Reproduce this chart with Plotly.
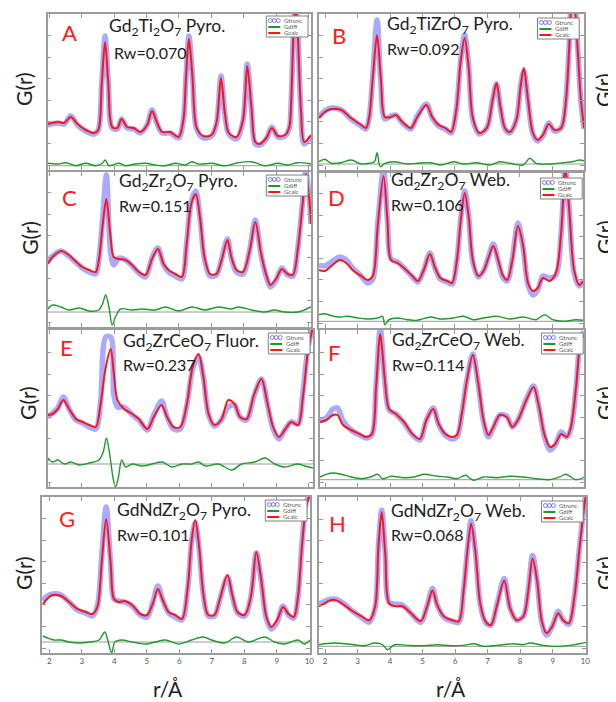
import plotly.graph_objects as go

# ---------------- data (r in Å, G(r) in arbitrary units) ----------------
r_A = [1.95, 2.26, 2.46, 2.66, 2.87, 3.12, 3.38, 3.51, 3.62, 3.72, 3.82, 3.94, 4.10, 4.23, 4.40, 4.61, 4.81, 5.02, 5.17, 5.32,
       5.48, 5.73, 5.99, 6.14, 6.22, 6.31, 6.42, 6.55, 6.75, 7.01, 7.16, 7.30, 7.42, 7.54, 7.78, 7.98, 8.11, 8.24, 8.36, 8.49,
       8.70, 8.87, 9.06, 9.28, 9.41, 9.47, 9.54, 9.60, 9.67, 9.77, 9.87, 10.08]
calc_A = [46, 48, 47, 53, 46, 40, 37, 40, 87, 128, 87, 43, 42, 51, 43, 42, 38, 45, 59, 48,
          38, 38, 33, 50, 93, 131, 93, 42, 34, 35, 47, 92, 57, 37, 33, 50, 104, 63, 28, 26,
          32, 42, 34, 35, 43, 70, 137, 165, 137, 60, 28, 35]
trunc_A = [45, 47, 46, 54, 45, 39, 36, 40, 88, 134, 88, 42, 41, 51, 42, 41, 37, 45, 60, 47,
           37, 37, 32, 50, 94, 134, 94, 41, 32, 34, 46, 94, 56, 36, 31, 49, 106, 62, 26, 25,
           31, 43, 33, 34, 42, 70, 140, 170, 140, 58, 26, 33]
rd_A = [1.95, 2.26, 2.51, 2.82, 3.12, 3.43, 3.64, 3.72, 3.84, 3.94, 4.15, 4.35, 4.66, 4.97, 5.27, 5.58, 5.89, 6.19, 6.40, 6.60,
        7.01, 7.42, 7.83, 8.24, 8.65, 9.06, 9.36, 9.67, 10.08]
diff_A = [6.7, 6, 7.3, 4.3, 6.7, 4.3, 6.7, 10, 4.3, 5, 6.7, 4.3, 6, 6.7, 5, 4.3, 6.7, 5, 8.3, 6,
          6.7, 4.3, 7.3, 8.3, 4.3, 6.7, 5, 7.3, 6]
base_A = 4.3

r_B = [1.81, 1.99, 2.19, 2.50, 2.80, 3.11, 3.26, 3.36, 3.47, 3.60, 3.72, 3.84, 4.03, 4.18, 4.38, 4.64, 4.84, 5.12, 5.30, 5.50,
       5.70, 5.88, 6.04, 6.18, 6.30, 6.42, 6.55, 6.75, 6.98, 7.16, 7.28, 7.40, 7.54, 7.69, 7.89, 8.02, 8.12, 8.25, 8.40, 8.55,
       8.71, 8.89, 9.06, 9.27, 9.42, 9.52, 9.60, 9.67, 9.78, 9.88, 9.98]
calc_B = [52, 58, 61, 60, 52, 45, 42, 53, 93, 135, 90, 53, 53, 55, 48, 42, 53, 65, 53, 45,
          42, 38, 60, 110, 132, 103, 52, 37, 42, 70, 87, 63, 42, 38, 50, 83, 102, 70, 37, 30,
          35, 46, 40, 42, 70, 123, 160, 160, 120, 70, 42]
trunc_B = [53, 59, 62, 60, 51, 44, 41, 53, 95, 150, 85, 51, 54, 55, 47, 41, 54, 66, 52, 44,
           41, 37, 60, 111, 135, 104, 50, 36, 42, 71, 86, 62, 41, 37, 50, 84, 99, 69, 36, 29,
           34, 47, 39, 42, 72, 126, 165, 165, 122, 68, 41]
rd_B = [1.81, 1.99, 2.19, 2.50, 2.80, 3.11, 3.36, 3.52, 3.60, 3.70, 3.84, 4.13, 4.53, 4.84, 5.25, 5.55, 5.96, 6.26, 6.67, 7.08,
        7.38, 7.69, 8.10, 8.30, 8.50, 8.91, 9.32, 9.62, 9.83, 9.98]
diff_B = [8.3, 10.7, 6.7, 7.3, 10, 6, 6.7, 8.3, 17.3, 3.3, 6.7, 8.3, 6, 6.7, 7.3, 5, 8.3, 6, 7.3, 5,
          8.3, 6.7, 5, 11.7, 6.7, 6, 7.3, 8.3, 10, 9.3]
base_B = 6

r_C = [1.95, 2.10, 2.36, 2.56, 2.77, 3.02, 3.23, 3.43, 3.53, 3.64, 3.76, 3.89, 3.99, 4.15, 4.35, 4.56, 4.76, 4.97, 5.17, 5.35,
       5.53, 5.68, 5.89, 6.09, 6.24, 6.38, 6.52, 6.65, 6.79, 6.96, 7.16, 7.32, 7.50, 7.62, 7.78, 7.98, 8.19, 8.36, 8.54, 8.70,
       8.83, 9.00, 9.18, 9.36, 9.52, 9.67, 9.82, 9.92, 10.03, 10.08]
calc_C = [63, 70, 76, 73, 67, 60, 57, 55, 67, 100, 128, 90, 70, 68, 67, 62, 55, 52, 68, 78,
          63, 57, 53, 50, 83, 123, 133, 110, 70, 53, 53, 67, 87, 70, 57, 55, 77, 105, 73, 52,
          42, 48, 58, 53, 52, 77, 123, 153, 127, 103]
trunc_C = [65, 71, 76, 72, 66, 59, 55, 53, 68, 106, 152, 75, 62, 69, 67, 61, 54, 50, 69, 79,
           62, 55, 51, 48, 84, 125, 136, 110, 68, 51, 52, 68, 88, 69, 55, 53, 78, 107, 72, 50,
           40, 47, 59, 52, 51, 78, 125, 155, 128, 103]
rd_C = [1.95, 2.10, 2.36, 2.61, 2.92, 3.23, 3.53, 3.64, 3.74, 3.84, 3.94, 4.04, 4.20, 4.56, 4.86, 5.27, 5.58, 5.99, 6.40, 6.81,
        7.21, 7.62, 7.83, 8.24, 8.65, 8.95, 9.26, 9.67, 9.87, 10.08]
diff_C = [18, 22, 20, 17, 19, 16, 17, 23, 32, 20, 2, 10, 18, 17, 18, 17, 20, 16, 20, 17,
          20, 18, 20, 17, 15, 17, 15, 15, 17, 20]
base_C = 15

r_D = [1.81, 1.99, 2.19, 2.45, 2.65, 2.85, 3.11, 3.31, 3.47, 3.62, 3.80, 3.92, 4.03, 4.23, 4.43, 4.69, 4.86, 5.04, 5.23, 5.37,
       5.55, 5.76, 5.91, 6.06, 6.18, 6.30, 6.42, 6.55, 6.72, 6.88, 7.03, 7.18, 7.33, 7.47, 7.61, 7.77, 7.94, 8.10, 8.25, 8.40,
       8.55, 8.71, 8.91, 9.11, 9.27, 9.40, 9.52, 9.67, 9.83, 9.95]
calc_D = [58, 57, 62, 68, 65, 58, 52, 48, 52, 102, 152, 108, 68, 65, 60, 52, 47, 58, 74, 62,
          50, 47, 45, 68, 108, 135, 112, 68, 52, 57, 70, 82, 68, 53, 48, 68, 102, 82, 45, 37,
          40, 50, 47, 55, 95, 160, 118, 58, 43, 47]
trunc_D = [63, 62, 66, 71, 68, 60, 52, 45, 49, 104, 158, 108, 69, 66, 60, 51, 46, 58, 75, 61,
           49, 46, 44, 68, 110, 137, 112, 66, 51, 57, 71, 84, 67, 51, 47, 70, 105, 80, 43, 33,
           38, 52, 50, 53, 95, 162, 118, 55, 42, 47]
rd_D = [1.81, 1.99, 2.19, 2.45, 2.70, 3.01, 3.31, 3.62, 3.77, 3.84, 3.97, 4.23, 4.53, 4.84, 5.25, 5.55, 5.96, 6.26, 6.57, 6.88,
        7.28, 7.69, 8.10, 8.50, 8.76, 9.01, 9.32, 9.73, 9.95]
diff_D = [13.3, 14.3, 12.3, 11, 11.7, 10, 9, 10, 11.7, 3.3, 8.3, 10, 8.3, 7.7, 11, 9, 10, 11.7, 8.3, 10,
          11.7, 9, 11, 8.3, 13.3, 8.3, 6.7, 8.3, 7.7]
base_D = 6.7

r_E = [1.95, 2.10, 2.26, 2.43, 2.61, 2.82, 3.02, 3.23, 3.43, 3.58, 3.74, 3.89, 3.99, 4.10, 4.30, 4.56, 4.76, 5.02, 5.22, 5.46,
       5.63, 5.83, 6.04, 6.24, 6.42, 6.60, 6.75, 6.91, 7.09, 7.30, 7.52, 7.71, 7.88, 8.08, 8.32, 8.54, 8.73, 8.90, 9.08, 9.26,
       9.46, 9.67, 9.82, 9.98, 10.13]
calc_E = [72, 73, 78, 87, 78, 68, 65, 62, 60, 83, 120, 138, 113, 87, 78, 73, 68, 58, 70, 82,
          70, 60, 60, 83, 120, 133, 110, 73, 62, 67, 87, 83, 70, 68, 93, 108, 83, 60, 50, 57,
          65, 62, 90, 137, 160]
trunc_E = [70, 74, 79, 90, 78, 67, 64, 60, 58, 85, 150, 150, 92, 80, 80, 72, 67, 57, 72, 86,
           70, 58, 58, 82, 118, 130, 110, 72, 61, 67, 80, 82, 70, 67, 92, 108, 82, 58, 48, 57,
           65, 63, 95, 140, 162]
rd_E = [1.95, 2.10, 2.26, 2.46, 2.66, 2.92, 3.23, 3.53, 3.66, 3.76, 3.86, 3.96, 4.04, 4.13, 4.23, 4.35, 4.56, 4.86, 5.17, 5.48,
        5.78, 6.09, 6.40, 6.60, 6.81, 7.21, 7.62, 7.93, 8.34, 8.65, 8.95, 9.26, 9.67, 9.87, 10.13]
diff_E = [29, 25, 27, 23, 25, 22, 24, 27, 35, 49, 33, 10, 0, 10, 27, 20, 23, 21, 23, 25,
          20, 23, 23, 25, 21, 23, 17, 23, 25, 29, 23, 20, 23, 21, 19]
base_E = 23

r_F = [1.84, 2.04, 2.24, 2.38, 2.55, 2.80, 3.06, 3.26, 3.44, 3.57, 3.70, 3.84, 3.97, 4.18, 4.43, 4.69, 4.92, 5.12, 5.33, 5.50,
       5.70, 5.91, 6.06, 6.21, 6.37, 6.55, 6.72, 6.88, 7.03, 7.18, 7.38, 7.59, 7.77, 7.94, 8.20, 8.42, 8.59, 8.76, 8.93, 9.09,
       9.27, 9.44, 9.57, 9.73, 9.88, 9.98]
calc_F = [65, 67, 72, 72, 62, 57, 53, 50, 53, 100, 153, 107, 78, 73, 65, 53, 48, 67, 78, 63,
          53, 50, 52, 73, 107, 132, 103, 67, 52, 60, 72, 70, 60, 67, 87, 100, 80, 52, 40, 43,
          53, 50, 60, 100, 147, 152]
trunc_F = [66, 69, 78, 79, 66, 57, 52, 49, 52, 102, 158, 105, 77, 73, 64, 52, 47, 67, 79, 62,
           52, 48, 50, 73, 108, 133, 102, 65, 50, 59, 72, 71, 60, 67, 88, 101, 79, 50, 37, 42,
           55, 50, 58, 100, 150, 155]
rd_F = [1.84, 2.04, 2.24, 2.50, 2.80, 3.11, 3.41, 3.62, 3.77, 4.03, 4.43, 4.74, 5.04, 5.45, 5.76, 6.06, 6.32, 6.57, 6.88, 7.28,
        7.69, 8.10, 8.50, 8.91, 9.22, 9.42, 9.73, 9.98]
diff_F = [10, 12.7, 14, 12.7, 10, 8.3, 10, 12.7, 8.3, 10.7, 9.3, 10, 12.7, 10.7, 10, 8.3, 11.7, 6.7, 10, 9.3,
          10.7, 10, 8.3, 7.3, 10, 12.7, 7.3, 10]
base_F = 7.3

r_G = [1.80, 1.90, 2.10, 2.36, 2.61, 2.87, 3.12, 3.33, 3.48, 3.61, 3.75, 3.89, 3.99, 4.14, 4.32, 4.55, 4.80, 5.01, 5.18, 5.34,
       5.49, 5.67, 5.87, 6.08, 6.26, 6.38, 6.49, 6.61, 6.74, 6.89, 7.08, 7.25, 7.48, 7.63, 7.79, 8.01, 8.20, 8.37, 8.52, 8.68,
       8.83, 9.01, 9.19, 9.36, 9.52, 9.65, 9.77, 9.90, 10.02]
calc_G = [48, 53, 58, 57, 51, 44, 41, 39, 46, 89, 134, 89, 54, 51, 52, 48, 39, 38, 49, 64,
          53, 41, 38, 34, 66, 113, 133, 106, 59, 38, 38, 54, 78, 58, 41, 38, 56, 101, 73, 36,
          26, 33, 46, 39, 36, 56, 106, 146, 159]
trunc_G = [52, 56, 59, 58, 51, 43, 40, 37, 47, 95, 146, 88, 54, 52, 51, 47, 38, 36, 50, 67,
           53, 40, 36, 33, 65, 112, 130, 104, 58, 37, 37, 54, 76, 57, 40, 37, 56, 100, 72, 34,
           24, 31, 47, 38, 35, 56, 108, 150, 160]
rd_G = [1.80, 1.95, 2.15, 2.36, 2.61, 2.92, 3.22, 3.53, 3.71, 3.83, 3.92, 4.02, 4.24, 4.55, 4.96, 5.26, 5.57, 5.98, 6.38, 6.74,
        6.99, 7.40, 7.76, 8.12, 8.63, 8.93, 9.24, 9.65, 9.85, 10.02]
diff_G = [17, 15, 13, 13, 11, 10, 11, 13, 21, 9, 0, 11, 13, 11, 9, 11, 13, 9, 13, 16,
          13, 10, 16, 11, 16, 11, 9, 13, 9, 13]
base_G = 11

r_H = [1.81, 1.99, 2.14, 2.35, 2.60, 2.85, 3.11, 3.36, 3.54, 3.64, 3.74, 3.85, 3.97, 4.18, 4.38, 4.64, 4.94, 5.14, 5.30, 5.45,
       5.65, 5.91, 6.11, 6.26, 6.39, 6.49, 6.62, 6.77, 6.93, 7.10, 7.28, 7.51, 7.69, 7.89, 8.10, 8.25, 8.38, 8.52, 8.66, 8.81,
       8.99, 9.17, 9.32, 9.50, 9.67, 9.83, 9.98, 10.03]
calc_H = [47, 50, 53, 53, 48, 42, 37, 33, 47, 107, 142, 100, 50, 47, 47, 40, 32, 47, 63, 48,
          37, 33, 32, 63, 107, 130, 103, 50, 32, 28, 47, 73, 45, 33, 37, 63, 95, 73, 33, 20,
          27, 40, 33, 30, 57, 107, 150, 160]
trunc_H = [49, 52, 54, 54, 49, 42, 36, 31, 46, 108, 144, 100, 51, 49, 48, 40, 31, 48, 65, 48,
           36, 32, 31, 63, 108, 133, 103, 49, 31, 28, 48, 75, 45, 33, 37, 64, 98, 73, 31, 18,
           27, 42, 33, 29, 57, 108, 152, 162]
rd_H = [1.81, 1.99, 2.30, 2.60, 2.91, 3.21, 3.52, 3.77, 3.92, 4.13, 4.53, 5.04, 5.45, 5.86, 6.26, 6.57, 6.88, 7.28, 7.79, 8.10,
        8.30, 8.71, 9.11, 9.52, 9.83, 10.03]
diff_H = [8.3, 9.3, 10, 9.3, 8.3, 7.3, 10, 8.3, 3.3, 8.3, 7.7, 7.3, 8.3, 7.3, 7.7, 9.3, 6.7, 7.7, 9.3, 8.3,
          10, 7.7, 6.7, 7.7, 9.3, 10.7]
base_H = 6.7

panel_letters = ["A", "B", "C", "D", "E", "F", "G", "H"]
compounds = ["Gd<sub>2</sub>Ti<sub>2</sub>O<sub>7</sub> Pyro.",
             "Gd<sub>2</sub>TiZrO<sub>7</sub> Pyro.",
             "Gd<sub>2</sub>Zr<sub>2</sub>O<sub>7</sub> Pyro.",
             "Gd<sub>2</sub>Zr<sub>2</sub>O<sub>7</sub> Web.",
             "Gd<sub>2</sub>ZrCeO<sub>7</sub> Fluor.",
             "Gd<sub>2</sub>ZrCeO<sub>7</sub> Web.",
             "GdNdZr<sub>2</sub>O<sub>7</sub> Pyro.",
             "GdNdZr<sub>2</sub>O<sub>7</sub> Web."]
rw_values = ["0.070", "0.092", "0.151", "0.106", "0.237", "0.114", "0.101", "0.068"]
legend_names = ["Gtrunc", "Gdiff", "Gcalc"]
x_tick_values = [2, 3, 4, 5, 6, 7, 8, 9, 10]
x_tick_labels = ["2", "3", "4", "5", "6", "7", "8", "9", "10"]

series = [
    (r_A, calc_A, trunc_A, rd_A, diff_A, base_A),
    (r_B, calc_B, trunc_B, rd_B, diff_B, base_B),
    (r_C, calc_C, trunc_C, rd_C, diff_C, base_C),
    (r_D, calc_D, trunc_D, rd_D, diff_D, base_D),
    (r_E, calc_E, trunc_E, rd_E, diff_E, base_E),
    (r_F, calc_F, trunc_F, rd_F, diff_F, base_F),
    (r_G, calc_G, trunc_G, rd_G, diff_G, base_G),
    (r_H, calc_H, trunc_H, rd_H, diff_H, base_H),
]

# ---------------- layout (positions in pixels of the 616x702 window) ----------------
PAGE_W, PAGE_H = 616, 702
OFF = 8                     # default body margin of the html page
W, H = PAGE_W - OFF, PAGE_H - OFF
boxes = [(48, 313, 14, 170), (321, 588, 14, 170),
         (48, 313, 172, 327), (321, 587, 173, 328),
         (48, 315, 330, 487), (322, 588, 330, 487),
         (42, 312, 497, 653), (321, 590, 497, 653)]
x_ranges = [(1.95, 10.08), (1.81, 9.98), (1.95, 10.08), (1.81, 9.95),
            (1.95, 10.13), (1.84, 9.98), (1.77, 10.02), (1.81, 10.03)]
y_tops = [156, 156, 155, 155, 157, 157, 156, 157]
legend_anchor = [(310, 16), (583, 18), (310, 175), (586, 178),
                 (312, 333), (587, 333), (309, 500), (587, 501)]
title_pos = [(108, 27), (387, 25), (118, 182), (392, 181),
             (122, 342), (393, 341), (116, 511), (392, 512)]
rw_pos = [(113, 52), (387, 48), (118, 205), (392, 204),
          (122, 364), (393, 364), (116, 534), (392, 534)]
letter_pos = [(60, 33), (332, 35), (60, 197), (328, 197),
              (58, 348), (328, 353), (57, 518), (329, 523)]


def fx(x):
    return (x - OFF) / W


def fy(y):
    return 1 - (y - OFF) / H


FONT = "Lato, 'Open Sans', sans-serif"
BLUE = "rgba(85,85,255,0.5)"
RED = "#ff1414"
GREEN = "#1f9a2a"

fig = go.Figure()
layout = dict(width=W, height=H, margin=dict(l=0, r=0, t=0, b=0),
              paper_bgcolor="white", plot_bgcolor="white", showlegend=False,
              font=dict(family=FONT))
annotations = []
shapes = []

for i, (r, calc, trunc, rd, diff, base) in enumerate(series):
    k = i + 1
    xa = "x" if k == 1 else f"x{k}"
    ya = "y" if k == 1 else f"y{k}"
    x0, x1, y0, y1 = boxes[i]
    bottom_row = i >= 6

    fig.add_trace(go.Scatter(x=r, y=trunc, mode="lines", name=legend_names[0],
                             line=dict(color=BLUE, width=5.5, shape="spline", smoothing=0.9),
                             xaxis=xa, yaxis=ya))
    fig.add_trace(go.Scatter(x=rd, y=diff, mode="lines", name=legend_names[1],
                             line=dict(color=GREEN, width=1.4, shape="spline", smoothing=0.9),
                             xaxis=xa, yaxis=ya))
    fig.add_trace(go.Scatter(x=r, y=calc, mode="lines", name=legend_names[2],
                             line=dict(color=RED, width=2, shape="spline", smoothing=0.9),
                             xaxis=xa, yaxis=ya))

    shapes.append(dict(type="line", xref=f"{xa} domain", yref=ya, x0=0, x1=1, y0=base, y1=base,
                       line=dict(color="#9a9a9a", width=1), layer="below"))

    layout["xaxis" if k == 1 else f"xaxis{k}"] = dict(
        domain=[fx(x0), fx(x1)], anchor=ya, range=list(x_ranges[i]),
        tickvals=x_tick_values, ticktext=x_tick_labels, showticklabels=bottom_row,
        ticks="inside", ticklen=4, tickcolor="#999", mirror="ticks",
        showline=True, linecolor="#9c9c9c", linewidth=1.5, showgrid=False, zeroline=False,
        tickfont=dict(size=8, color="#555"))
    layout["yaxis" if k == 1 else f"yaxis{k}"] = dict(
        domain=[fy(y1), fy(y0)], anchor=xa, range=[0, y_tops[i]],
        tick0=5, dtick=21.6, showticklabels=False,
        ticks="inside", ticklen=4, tickcolor="#999", mirror="ticks",
        showline=True, linecolor="#9c9c9c", linewidth=1.5, showgrid=False, zeroline=False)

    # small legend box in the top-right corner of the panel
    lx, ly = legend_anchor[i]
    lx0 = lx - 42
    shapes.append(dict(type="rect", xref="paper", yref="paper",
                       x0=fx(lx0), x1=fx(lx), y0=fy(ly + 21), y1=fy(ly),
                       fillcolor="white", line=dict(color="#808080", width=1), layer="above"))
    for cxp in (lx0 + 4, lx0 + 8, lx0 + 12):
        shapes.append(dict(type="circle", xref="paper", yref="paper",
                           x0=fx(cxp - 2), x1=fx(cxp + 2), y0=fy(ly + 6.5), y1=fy(ly + 2.5),
                           line=dict(color="rgba(90,90,255,0.8)", width=1), layer="above"))
    shapes.append(dict(type="line", xref="paper", yref="paper",
                       x0=fx(lx0 + 2), x1=fx(lx0 + 14), y0=fy(ly + 11), y1=fy(ly + 11),
                       line=dict(color=GREEN, width=2), layer="above"))
    shapes.append(dict(type="line", xref="paper", yref="paper",
                       x0=fx(lx0 + 2), x1=fx(lx0 + 14), y0=fy(ly + 17), y1=fy(ly + 17),
                       line=dict(color=RED, width=2), layer="above"))
    for j, name in enumerate(legend_names):
        annotations.append(dict(text=name, x=fx(lx0 + 16), y=fy(ly + 4.5 + 6.2 * j),
                                xref="paper", yref="paper", xanchor="left", yanchor="middle",
                                showarrow=False, font=dict(size=6, color="#555", family=FONT)))

    tx, ty = title_pos[i]
    annotations.append(dict(text=compounds[i], x=fx(tx), y=fy(ty), xref="paper", yref="paper",
                            xanchor="left", yanchor="middle", showarrow=False,
                            font=dict(size=17.5, color="#222", family=FONT)))
    rx, ry = rw_pos[i]
    annotations.append(dict(text="Rw=" + rw_values[i], x=fx(rx), y=fy(ry), xref="paper", yref="paper",
                            xanchor="left", yanchor="middle", showarrow=False,
                            font=dict(size=16, color="#222", family=FONT)))
    cx, cy = letter_pos[i]
    annotations.append(dict(text=panel_letters[i], x=fx(cx), y=fy(cy), xref="paper", yref="paper",
                            xanchor="left", yanchor="middle", showarrow=False,
                            font=dict(size=22, color="#ff1a1a", family=FONT)))

# axis titles
for (gx, gy) in [(24, 89), (29, 238), (27, 403), (23, 573),
                 (608, 90), (608, 237), (608, 403), (608, 573)]:
    annotations.append(dict(text="G(r)", x=fx(gx), y=fy(gy), xref="paper", yref="paper",
                            xanchor="center", yanchor="middle", textangle=-90, showarrow=False,
                            font=dict(size=21, color="#222", family=FONT)))
for (ax, ay) in [(169, 688), (454, 688)]:
    annotations.append(dict(text="r/Å", x=fx(ax), y=fy(ay), xref="paper", yref="paper",
                            xanchor="center", yanchor="middle", showarrow=False,
                            font=dict(size=21, color="#222", family=FONT)))

layout["annotations"] = annotations
layout["shapes"] = shapes
fig.update_layout(**layout)
fig.write_html("out.html")
